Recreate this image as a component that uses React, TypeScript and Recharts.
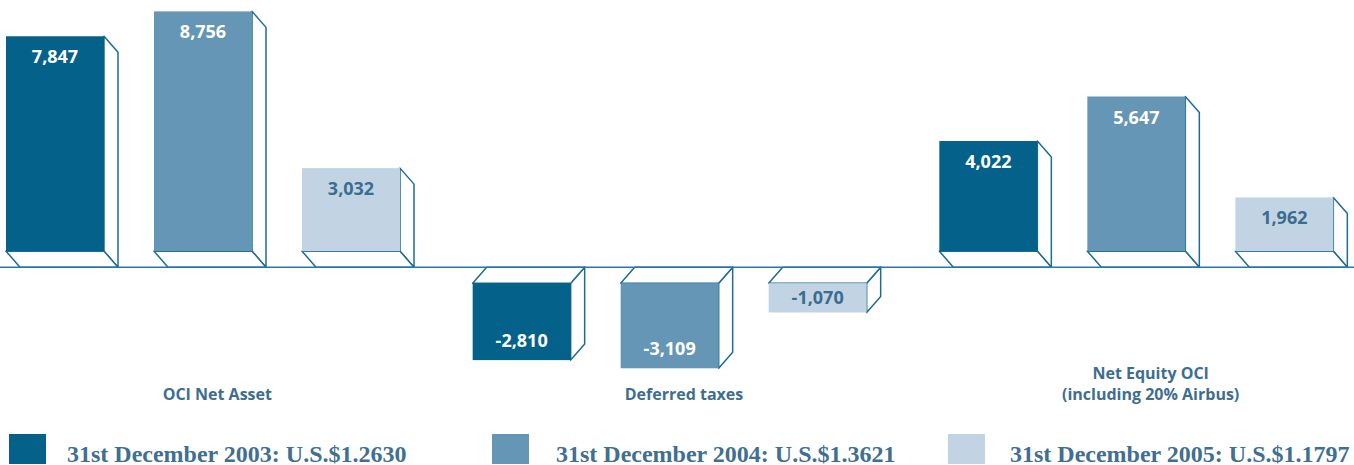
import React from "react";
import { BarChart, Bar, XAxis, YAxis, ReferenceLine, LabelList, Legend } from "recharts";

// values (millions of euros)
const categories = ["OCI Net Asset", "Deferred taxes", "Net Equity OCI|(including 20% Airbus)"];
const dec2003 = [7847, -2810, 4022];
const dec2004 = [8756, -3109, 5647];
const dec2005 = [3032, -1070, 1962];
const seriesNames = [
  "31st December 2003: U.S.$1.2630",
  "31st December 2004: U.S.$1.3621",
  "31st December 2005: U.S.$1.1797",
];

const data = categories.map((name, i) => ({
  name,
  d2003: dec2003[i],
  d2004: dec2004[i],
  d2005: dec2005[i],
}));

const COLORS = ["#046189", "#6596b5", "#c2d4e3"];
const LABEL_COLORS = ["#ffffff", "#ffffff", "#3b6d90"];
const EDGE = "#1d6d92";
const TEXT = "#3d6e8f";
const DX = 14;
const DY = 16;

const box = (key: string, fill: string) => (props: any) => {
  const { x, y, width, height, payload } = props;
  const top = Math.min(y, y + height);
  const h = Math.abs(height);
  const neg = payload[key] < 0;
  const fx = x - DX;
  const fy = neg ? top + DY : top - DY;
  const side = `${fx + width},${fy} ${x + width},${top} ${x + width},${top + h} ${fx + width},${fy + h}`;
  const cap = neg
    ? `${fx},${fy} ${x},${top} ${x + width},${top} ${fx + width},${fy}`
    : `${fx},${fy + h} ${fx + width},${fy + h} ${x + width},${top + h} ${x},${top + h}`;
  return (
    <g>
      <polygon points={side} fill="#fff" stroke={EDGE} strokeWidth={1.5} strokeLinejoin="round" />
      <polygon points={cap} fill="#fff" stroke={EDGE} strokeWidth={1.5} strokeLinejoin="round" />
      <rect x={fx} y={fy} width={width} height={h} fill={fill} />
    </g>
  );
};

const valueLabel = (color: string) => (props: any) => {
  const vb = props.viewBox || props;
  const { x, y, width, height } = vb;
  const value = Number(props.value);
  const top = Math.min(y, y + height);
  const h = Math.abs(height);
  const cx = x - DX + width / 2;
  let base;
  if (value >= 0) {
    const fy = top - DY;
    base = Math.min(fy + 27, fy + h / 2 + 7);
  } else {
    const fy = top + DY;
    base = Math.max(fy + h - 13, fy + h / 2 + 6);
  }
  return (
    <text x={cx} y={base} textAnchor="middle" fill={color}
      style={{ fontFamily: "'Open Sans', sans-serif", fontWeight: 700, fontSize: 18 }}>
      {value.toLocaleString("en-US")}
    </text>
  );
};

const CategoryTick = (props: any) => {
  const { x, y, payload } = props;
  const lines = String(payload.value).split("|");
  return (
    <text x={x} textAnchor="middle" fill={TEXT}
      style={{ fontFamily: "'Open Sans', sans-serif", fontWeight: 700, fontSize: 16 }}>
      {lines.map((l, i) => (
        <tspan key={i} x={x} y={y + 37 - (lines.length - 1 - i) * 21}>{l}</tspan>
      ))}
    </text>
  );
};

const legendSquare = [9, 492, 948];
const legendText = [67, 556, 1010];

const ChartLegend = (props: any) => (
  <div style={{ position: "relative", width: 1354, height: 40 }}>
    {(props.payload || []).map((p: any, i: number) => (
      <React.Fragment key={i}>
        <div style={{ position: "absolute", left: legendSquare[i], top: 9, width: 37, height: 30, background: COLORS[i] }} />
        <div style={{
          position: "absolute", left: legendText[i], top: 17, lineHeight: "24px", whiteSpace: "nowrap",
          fontFamily: "'Liberation Serif', serif", fontWeight: 700, fontSize: 24, color: "#416f91",
        }}>{p.value}</div>
      </React.Fragment>
    ))}
  </div>
);

export default function App() {
  const keys = ["d2003", "d2004", "d2005"];
  return (
    <div style={{ position: "absolute", left: 0, top: 0, width: 1354, height: 465, background: "#fff" }}>
      <BarChart width={1354} height={465} data={data}
        margin={{ top: 7, right: -30, bottom: 42, left: -16 }}
        barSize={98} barGap={50}>
        <XAxis dataKey="name" axisLine={false} tickLine={false} tickSize={0} tickMargin={0}
          height={60} interval={0} tick={<CategoryTick />} />
        <YAxis hide type="number" domain={[-3500, 9500]} />
        <ReferenceLine y={0} stroke="#2a78a0" strokeWidth={1.5} />
        {keys.map((k, i) => (
          <Bar key={k} dataKey={k} name={seriesNames[i]} fill={COLORS[i]}
            shape={box(k, COLORS[i])} isAnimationActive={false}>
            <LabelList dataKey={k} content={valueLabel(LABEL_COLORS[i])} />
          </Bar>
        ))}
        <Legend verticalAlign="middle" align="center" layout="horizontal"
          wrapperStyle={{ position: "absolute", left: 0, top: 425, width: 1354, height: 40 }}
          content={<ChartLegend />} />
      </BarChart>
    </div>
  );
}
